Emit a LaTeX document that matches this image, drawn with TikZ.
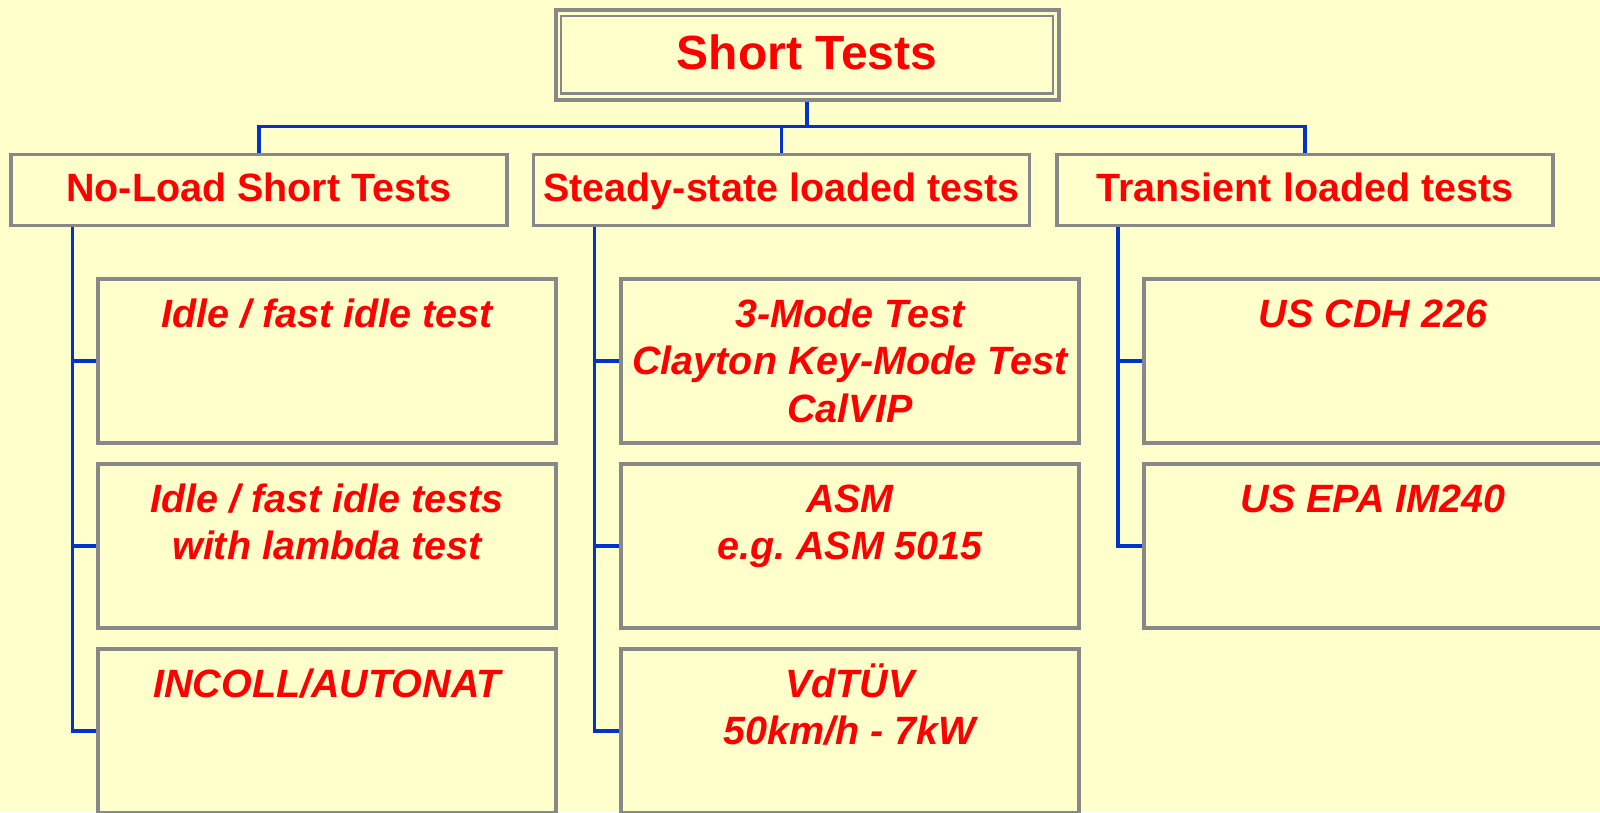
\documentclass[tikz,border=0pt]{standalone}
\usepackage{fontspec}
\setmainfont{Liberation Sans}
\frenchspacing
\definecolor{bg}{HTML}{FFFFCC}
\definecolor{boxgray}{HTML}{888888}
\definecolor{lineblue}{HTML}{0033CC}
\definecolor{txtred}{HTML}{FF0000}
\tikzset{
  frame/.style={draw=boxgray, line width=3.4pt, fill=bg, rectangle, inner sep=0pt, outer sep=0pt},
  l1box/.style={frame, minimum width=496pt, minimum height=71pt, text=txtred,
    font=\fontsize{39.5}{47}\selectfont\bfseries, text height=28pt, text depth=4.6pt},
  l2box/.style={frame, minimum width=458pt, minimum height=164pt},
  l2text/.style={anchor=north, inner sep=0pt, align=center, text=txtred,
    font=\fontsize{39.5}{47.5}\selectfont\bfseries\itshape},
  conn/.style={draw=lineblue, line width=3.4pt},
}
\newcommand{\firstln}{\rule{0pt}{38pt}}
\begin{document}
\begin{tikzpicture}[x=1pt,y=-1pt]
\path[use as bounding box, fill=bg] (0,0) rectangle (1600,812);
\clip (0,0) rectangle (1600,812);

% helper coordinates
\coordinate (hy) at (0,126.5);
\coordinate (tax) at (72.3,0);
\coordinate (tbx) at (594.5,0);
\coordinate (tcx) at (1118,0);

% node positions (boxes)
\path
  (807,54.85) node[frame, line width=4pt, minimum width=503pt, minimum height=90.3pt, text=txtred,
     font=\fontsize{48}{56}\selectfont\bfseries, text height=34pt, text depth=5pt] (top) {Short Tests}
  (259,190) node[l1box] (nl) {No-Load Short Tests}
  (781.5,190) node[l1box] (st) {Steady-state loaded tests}
  (1305,190) node[l1box] (tr) {Transient loaded tests};

% connectors from top
\draw[conn] (top.south) -- (top.south |- hy);
\draw[conn] (nl.north) |- (tr.north |- hy) -- (tr.north);
\draw[conn] (st.north) -- (st.north |- hy);

% level-2 boxes
\node[l2box] (a1) at (327,361) {};
\node[l2box] (a2) at (327,546) {};
\node[l2box] (a3) at (327,731) {};
\node[l2box] (b1) at (850,361) {};
\node[l2box] (b2) at (850,546) {};
\node[l2box] (b3) at (850,731) {};
\node[l2box] (c1) at (1373,361) {};
\node[l2box] (c2) at (1373,546) {};

% trunks and ticks
\draw[conn] (nl.south -| tax) |- (a3.west);
\draw[conn] (a1.west -| tax) -- (a1.west);
\draw[conn] (a2.west -| tax) -- (a2.west);
\draw[conn] (st.south -| tbx) |- (b3.west);
\draw[conn] (b1.west -| tbx) -- (b1.west);
\draw[conn] (b2.west -| tbx) -- (b2.west);
\draw[conn] (tr.south -| tcx) |- (c2.west);
\draw[conn] (c1.west -| tcx) -- (c1.west);

% re-stroke borders over connector ends
\foreach \n in {a1,a2,a3,b1,b2,b3,c1,c2,nl,st,tr}
  \draw[draw=boxgray, line width=3.4pt] (\n.north west) rectangle (\n.south east);
\draw[draw=boxgray, line width=4pt] (top.north west) rectangle (top.south east);
\draw[draw=boxgray, line width=2.7pt] ([shift={(5.6pt,-6.2pt)}]top.north west) rectangle ([shift={(-5.6pt,6.2pt)}]top.south east);

% level-2 texts
\node[l2text] (a1t) at ([yshift=-10pt]a1.north) {\firstln Idle / fast idle test};
\node[l2text] (a2t) at ([yshift=-10pt]a2.north) {\firstln Idle / fast idle tests\\with lambda test};
\node[l2text] (a3t) at ([yshift=-10pt]a3.north) {\firstln INCOLL/AUTONAT};
\node[l2text] (b1t) at ([yshift=-10pt]b1.north) {\firstln 3-Mode Test\\Clayton Key-Mode Test\\CalVIP};
\node[l2text] (b2t) at ([yshift=-10pt]b2.north) {\firstln ASM\\e.g. ASM 5015};
\node[l2text] (b3t) at ([yshift=-10pt]b3.north) {\firstln VdTÜV\\50km/h - 7kW};
\node[l2text] (c1t) at ([yshift=-10pt]c1.north) {\firstln US CDH 226};
\node[l2text] (c2t) at ([yshift=-10pt]c2.north) {\firstln US EPA IM240};
\end{tikzpicture}
\end{document}
